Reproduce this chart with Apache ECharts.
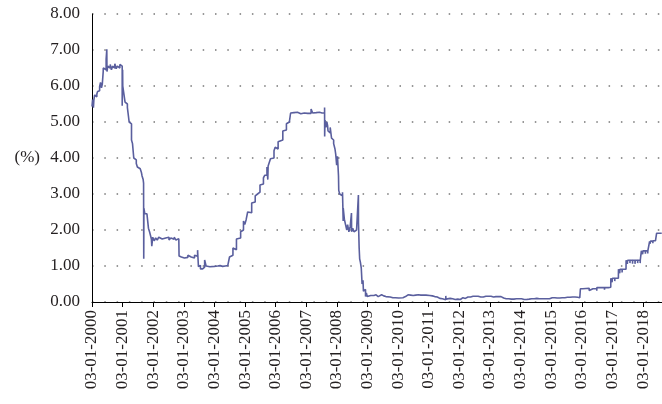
<!DOCTYPE html>
<html>
<head>
<meta charset="utf-8">
<style>
  html, body { margin: 0; padding: 0; background: #fff; }
  #chart { width: 662px; height: 404px; }
</style>
<script src="https://cdn.jsdelivr.net/npm/echarts@6/dist/echarts.min.js"></script>
</head>
<body>
<div id="chart"></div>
<script>
// effective rate (%); each value holds from its date to the next one
const dates = [
  // 2000
  '2000-01-03','2000-01-10','2000-01-20','2000-01-25','2000-02-03','2000-02-15','2000-03-01','2000-03-10','2000-03-22','2000-04-03','2000-04-14','2000-04-25','2000-05-05','2000-05-16','2000-05-17','2000-05-25','2000-06-05','2000-06-20','2000-06-28','2000-06-30','2000-07-10','2000-07-25','2000-08-08','2000-08-22','2000-09-05','2000-09-20','2000-10-02','2000-10-18','2000-11-01','2000-11-15','2000-12-01','2000-12-20','2000-12-29',
  // 2001
  '2001-01-03','2001-01-05','2001-01-15','2001-01-25','2001-02-01','2001-02-15','2001-03-01','2001-03-15','2001-03-22','2001-04-05','2001-04-19','2001-05-01','2001-05-16','2001-06-01','2001-06-15','2001-06-28','2001-07-15','2001-08-01','2001-08-15','2001-08-23','2001-09-05','2001-09-10','2001-09-12','2001-09-14','2001-09-25','2001-10-03','2001-10-20','2001-11-07','2001-11-20','2001-12-12','2001-12-17','2001-12-28',
  // 2002
  '2002-01-15','2002-02-01','2002-02-20','2002-03-10','2002-04-01','2002-04-20','2002-05-10','2002-06-01','2002-06-20','2002-07-10','2002-08-01','2002-08-20','2002-09-10','2002-10-01','2002-10-20','2002-11-04','2002-11-07','2002-11-20','2002-12-05','2002-12-20',
  // 2003
  '2003-01-10','2003-02-01','2003-02-20','2003-03-10','2003-04-01','2003-04-20','2003-05-10','2003-05-28','2003-06-16','2003-06-20','2003-06-26','2003-07-10','2003-07-20','2003-08-15','2003-09-08','2003-09-25','2003-10-15','2003-11-10','2003-12-01','2003-12-31',
  // 2004
  '2004-01-15','2004-02-10','2004-03-10','2004-04-10','2004-05-10','2004-06-10','2004-06-28','2004-07-01','2004-07-20','2004-08-11','2004-08-30','2004-09-22','2004-10-15','2004-11-11','2004-11-25','2004-12-15','2004-12-30',
  // 2005
  '2005-01-15','2005-02-03','2005-02-20','2005-03-23','2005-04-10','2005-05-04','2005-05-20','2005-06-01','2005-06-30','2005-07-20','2005-08-10','2005-08-25','2005-09-21','2005-10-01','2005-10-05','2005-10-25','2005-11-02','2005-11-20','2005-12-14','2005-12-28',
  // 2006
  '2006-01-15','2006-02-01','2006-02-20','2006-03-29','2006-04-15','2006-05-11','2006-05-30','2006-06-15','2006-06-30','2006-07-20','2006-08-10','2006-08-30','2006-09-20','2006-10-10','2006-10-30','2006-11-20','2006-12-10','2006-12-30',
  // 2007
  '2007-01-20','2007-02-10','2007-03-01','2007-03-20','2007-04-10','2007-05-01','2007-05-20','2007-06-10','2007-07-10','2007-07-30','2007-08-09','2007-08-10','2007-08-14','2007-08-24','2007-09-05','2007-09-14','2007-09-19','2007-10-01','2007-10-15','2007-10-31','2007-11-10','2007-11-25','2007-12-11','2007-12-20','2007-12-31',
  // 2008
  '2008-01-10','2008-01-22','2008-01-25','2008-02-05','2008-02-20','2008-03-10','2008-03-18','2008-03-19','2008-04-01','2008-04-15','2008-04-30','2008-05-10','2008-05-25','2008-06-10','2008-06-25','2008-06-27','2008-07-10','2008-07-25','2008-08-10','2008-08-25','2008-09-10','2008-09-16','2008-09-17','2008-09-25','2008-10-01','2008-10-10','2008-10-20','2008-10-30','2008-11-10','2008-11-15','2008-12-01','2008-12-10','2008-12-20','2008-12-31',
  // 2009
  '2009-01-15','2009-02-10','2009-03-01','2009-03-20','2009-04-15','2009-05-10','2009-06-01','2009-06-20','2009-07-15','2009-08-10','2009-09-01','2009-10-01','2009-11-01','2009-12-01','2009-12-20',
  // 2010
  '2010-01-10','2010-02-01','2010-03-01','2010-04-01','2010-05-01','2010-06-01','2010-07-01','2010-08-01','2010-09-01','2010-10-01','2010-11-01','2010-12-01',
  // 2011
  '2011-01-15','2011-02-15','2011-03-15','2011-04-15','2011-05-15','2011-06-15','2011-06-30','2011-07-25','2011-07-27','2011-08-15','2011-09-15','2011-10-15','2011-11-15','2011-12-15',
  // 2012
  '2012-01-15','2012-02-15','2012-03-15','2012-04-15','2012-05-15','2012-06-15','2012-07-15','2012-08-15','2012-09-15','2012-10-15','2012-11-15','2012-12-15',
  // 2013
  '2013-01-15','2013-02-15','2013-03-15','2013-04-15','2013-05-15','2013-06-15','2013-07-15','2013-08-15','2013-09-15','2013-10-15','2013-11-15','2013-12-15',
  // 2014
  '2014-01-15','2014-02-15','2014-03-15','2014-04-15','2014-05-15','2014-06-15','2014-07-15','2014-08-15','2014-09-15','2014-10-15','2014-11-15','2014-12-15',
  // 2015
  '2015-01-15','2015-02-15','2015-03-15','2015-04-15','2015-05-15','2015-06-15','2015-07-15','2015-08-15','2015-09-15','2015-10-15','2015-11-15','2015-12-10','2015-12-17',
  // 2016
  '2016-01-15','2016-02-01','2016-03-31','2016-04-01','2016-05-15','2016-06-30','2016-07-01','2016-08-15','2016-09-30','2016-10-03','2016-11-15','2016-12-14','2016-12-15','2016-12-30',
  // 2017
  '2017-01-03','2017-01-31','2017-02-01','2017-03-15','2017-03-16','2017-03-31','2017-04-03','2017-04-28','2017-05-01','2017-06-14','2017-06-15','2017-06-30','2017-07-03','2017-07-31','2017-08-01','2017-08-31','2017-09-01','2017-09-29','2017-10-02','2017-10-31','2017-11-01','2017-11-30','2017-12-01','2017-12-13','2017-12-14','2017-12-29',
  // 2018
  '2018-01-02','2018-01-31','2018-02-01','2018-02-28','2018-03-01','2018-03-21','2018-03-22','2018-03-29','2018-04-02','2018-04-30','2018-05-01','2018-05-31','2018-06-01','2018-06-13','2018-06-14','2018-06-29','2018-07-02','2018-07-31','2018-08-01','2018-08-14'
];
const rates = [
  // 2000
  5.43,5.62,5.40,5.60,5.75,5.70,5.78,5.85,5.87,5.98,6.10,5.95,6.05,6.40,6.50,6.55,6.45,6.75,7.02,6.40,6.55,6.50,6.60,6.45,6.55,6.50,6.62,6.48,6.55,6.50,6.60,6.55,5.45,
  // 2001
  6.45,6.00,5.95,6.05,5.55,5.50,5.40,5.35,5.00,4.95,4.50,4.40,4.00,3.95,3.85,3.75,3.70,3.75,3.60,3.50,3.40,3.30,1.20,2.60,2.45,2.45,2.40,2.05,1.95,1.75,1.55,1.80,
  // 2002
  1.70,1.78,1.72,1.80,1.75,1.72,1.78,1.74,1.80,1.72,1.78,1.74,1.80,1.72,1.76,1.80,1.28,1.25,1.30,1.22,
  // 2003
  1.27,1.24,1.30,1.25,1.28,1.22,1.30,1.27,1.44,1.25,0.98,1.02,0.92,0.97,1.17,1.00,0.98,1.02,0.99,0.95,
  // 2004
  1.00,1.01,0.99,1.00,1.01,1.00,1.02,1.25,1.30,1.50,1.45,1.75,1.78,1.95,2.00,2.25,2.15,
  // 2005
  2.28,2.50,2.48,2.75,2.78,2.95,3.00,3.05,3.25,3.28,3.45,3.52,3.75,3.40,3.78,3.80,3.98,4.00,4.20,4.30,
  // 2006
  4.25,4.45,4.50,4.75,4.78,4.95,5.00,5.05,5.25,5.26,5.24,5.27,5.25,5.23,5.27,5.25,5.30,5.24,
  // 2007
  5.26,5.24,5.36,5.25,5.26,5.22,5.27,5.25,5.26,5.25,5.40,4.60,5.05,4.85,5.00,4.90,4.75,4.70,4.85,4.55,4.50,4.40,4.25,4.10,3.80,
  // 2008
  4.05,3.50,3.10,3.00,2.95,3.05,2.25,2.60,2.30,2.15,2.00,2.15,1.95,2.10,2.47,1.95,2.05,1.95,2.00,2.05,2.00,2.97,2.20,1.50,1.20,1.10,0.95,0.50,0.60,0.30,0.35,0.15,0.25,0.15,
  // 2009
  0.18,0.22,0.18,0.20,0.15,0.18,0.20,0.17,0.15,0.15,0.14,0.12,0.12,0.12,0.11,
  // 2010
  0.11,0.12,0.15,0.20,0.19,0.18,0.19,0.20,0.19,0.19,0.19,0.18,
  // 2011
  0.17,0.15,0.14,0.10,0.09,0.09,0.06,0.17,0.08,0.10,0.09,0.07,0.08,0.07,
  // 2012
  0.12,0.10,0.14,0.14,0.16,0.16,0.16,0.14,0.14,0.16,0.16,0.16,
  // 2013
  0.14,0.15,0.15,0.15,0.11,0.09,0.09,0.08,0.08,0.09,0.09,0.09,
  // 2014
  0.07,0.07,0.08,0.09,0.09,0.10,0.09,0.09,0.09,0.09,0.09,0.12,
  // 2015
  0.12,0.11,0.11,0.12,0.12,0.13,0.13,0.14,0.14,0.13,0.12,0.13,0.37,
  // 2016
  0.36,0.38,0.32,0.37,0.37,0.31,0.40,0.40,0.34,0.40,0.41,0.41,0.66,0.55,
  // 2017
  0.66,0.58,0.66,0.66,0.91,0.80,0.91,0.82,0.91,0.91,1.16,1.06,1.16,1.08,1.16,1.06,1.16,1.06,1.16,1.08,1.16,1.08,1.16,1.16,1.42,1.33,
  // 2018
  1.42,1.34,1.42,1.35,1.42,1.44,1.68,1.62,1.69,1.63,1.70,1.66,1.70,1.70,1.91,1.86,1.91,1.88,1.91,1.91
];
const tickYears = [2000,2001,2002,2003,2004,2005,2006,2007,2008,2009,2010,2011,2012,2013,2014,2015,2016,2017,2018];

// date string -> fractional year
function toYear(s) {
  const [y, m, d] = s.split('-').map(Number);
  const t0 = Date.UTC(y, 0, 1), t1 = Date.UTC(y + 1, 0, 1);
  return y + (Date.UTC(y, m - 1, d) - t0) / (t1 - t0);
}

const points = dates.map((d, i) => [toYear(d), rates[i]]);
const tickPos = tickYears.map(y => toYear(y + '-01-03'));

const font = '"Liberation Serif", "DejaVu Serif", serif';
const textColor = '#231f20';

const chart = echarts.init(document.getElementById('chart'));
chart.setOption({
  animation: false,
  backgroundColor: '#fff',
  grid: { left: 92, right: 0, top: 14, bottom: 102 },
  xAxis: {
    type: 'value',
    min: toYear('2000-01-03'),
    max: toYear('2018-08-17'),
    axisLine: { lineStyle: { color: '#000', width: 1 } },
    axisTick: { customValues: tickPos, length: 5, lineStyle: { color: '#000' } },
    axisLabel: {
      customValues: tickPos,
      rotate: 90,
      margin: 8,
      color: textColor,
      fontFamily: font,
      fontSize: 17,
      formatter: v => '03-01-' + Math.round(v)
    },
    splitLine: { show: false }
  },
  yAxis: {
    type: 'value',
    min: 0,
    max: 8,
    interval: 1,
    name: '(%)',
    nameLocation: 'middle',
    nameRotate: 0,
    nameGap: 52,
    nameTextStyle: { color: textColor, fontFamily: font, fontSize: 17 },
    axisLine: { show: true, lineStyle: { color: '#000', width: 1 } },
    axisTick: { show: false },
    axisLabel: {
      margin: 12,
      color: textColor,
      fontFamily: font,
      fontSize: 17,
      formatter: v => v.toFixed(2)
    },
    splitLine: {
      lineStyle: { color: '#777', width: 1.5, type: [1.5, 10.8] }
    }
  },
  series: [{
    type: 'line',
    data: points,
    step: 'end',
    showSymbol: false,
    lineStyle: { color: '#5a5f9e', width: 1.6 },
    z: 3
  }]
});
</script>
</body>
</html>
